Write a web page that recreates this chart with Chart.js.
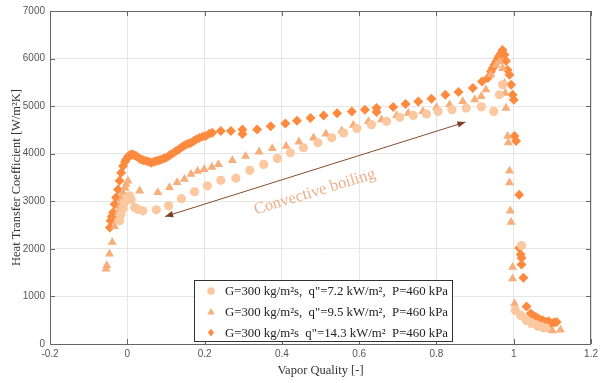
<!DOCTYPE html>
<html>
<head>
<meta charset="utf-8">
<script src="https://cdn.jsdelivr.net/npm/chart.js@4.4.0/dist/chart.umd.min.js"></script>
<style>
  html, body { margin: 0; padding: 0; background: #fff; }
  #wrap { width: 602px; height: 383px; }
</style>
</head>
<body>
<div id="wrap"><canvas id="chart" width="602" height="383"></canvas></div>
<script>
// tick values
const xTicks = [-0.2, 0, 0.2, 0.4, 0.6, 0.8, 1, 1.2];
const yTicks = [0, 1000, 2000, 3000, 4000, 5000, 6000, 7000];

const legendLabels = [
    'G=300 kg/m\u00B2s,  q"=7.2 kW/m\u00B2,  P=460 kPa',
    'G=300 kg/m\u00B2s,  q"=9.5 kW/m\u00B2,  P=460 kPa',
    'G=300 kg/m\u00B2s  q"=14.3 kW/m\u00B2  P=460 kPa'
];

// q" = 7.2 kW/m2 (circles)
const q72X = [-0.020, -0.016, -0.011, -0.007, 0.002, 0.006, 0.010, 0.019, 0.027, 0.040, 0.075, 0.107, 0.140, 0.174,
    0.207, 0.242, 0.281, 0.317, 0.353, 0.388, 0.422, 0.456, 0.493, 0.529, 0.560, 0.594, 0.632, 0.671, 0.705, 0.740,
    0.774, 0.804, 0.840, 0.877, 0.916, 0.948, 0.963, 0.971, 1.020, 1.004, 1.018, 1.031, 1.044, 1.057, 1.070, 1.083];
const q72Y = [2590, 2730, 2850, 2975, 3080, 3115, 3040, 2870, 2835, 2800, 2820, 2905, 3055, 3200,
    3325, 3440, 3485, 3650, 3775, 3900, 4020, 4125, 4230, 4335, 4435, 4530, 4610, 4680, 4765, 4805,
    4835, 4890, 4925, 4960, 4985, 4890, 5240, 5450, 2070, 710, 605, 520, 455, 410, 370, 340];

// q" = 9.5 kW/m2 (triangles)
const q95X = [-0.055, -0.053, -0.046, -0.039, -0.033, -0.028, -0.024, -0.020, -0.015, -0.011, -0.006, -0.003, 0.002,
    0.032, 0.079, 0.109, 0.129, 0.148, 0.165, 0.182, 0.199, 0.219, 0.236, 0.272, 0.306, 0.341, 0.375, 0.411, 0.444,
    0.482, 0.514, 0.555, 0.585, 0.624, 0.658, 0.697, 0.727, 0.765, 0.800, 0.834, 0.868, 0.899, 0.916, 0.928, 0.941,
    0.954, 0.963, 0.971, 0.976, 0.978, 0.980, 0.984, 0.986, 0.989, 0.989, 0.991, 0.993, 0.997, 0.997, 1.002, 1.010,
    1.023, 1.036, 1.049, 1.066, 1.083, 1.100, 1.121];
const q95Y = [1580, 1650, 1895, 2140, 2470, 2590, 2760, 2900, 3050, 3180, 3280, 3360, 3430,
    3220, 3185, 3290, 3395, 3465, 3570, 3635, 3670, 3720, 3775, 3860, 3950, 4040, 4110, 4160, 4250,
    4335, 4415, 4485, 4600, 4680, 4715, 4805, 4855, 4890, 4975, 5030, 5100, 5135, 5205, 5345, 5660,
    5865, 5935, 5795, 5480, 5275, 4960, 4370, 4230, 3640, 3390, 2800, 2560, 1615, 1375, 850, 675,
    570, 465, 400, 350, 305, 280, 295];

// q" = 14.3 kW/m2 (diamonds)
const q143X = [-0.045, -0.043, -0.040, -0.037, -0.033, -0.029, -0.024, -0.020, -0.016, -0.011, -0.006, -0.003, 0.002,
    0.006, 0.010, 0.014, 0.019, 0.023, 0.030, 0.036, 0.042, 0.049, 0.056, 0.062, 0.069, 0.075, 0.082, 0.088, 0.094,
    0.100, 0.107, 0.113, 0.120, 0.126, 0.133, 0.139, 0.146, 0.152, 0.159, 0.165, 0.172, 0.178, 0.186, 0.195, 0.203,
    0.212, 0.220, 0.242, 0.268, 0.298, 0.298, 0.336, 0.371, 0.409, 0.439, 0.474, 0.508, 0.543, 0.581, 0.615, 0.645,
    0.645, 0.688, 0.720, 0.753, 0.787, 0.823, 0.857, 0.894, 0.918, 0.933, 0.941, 0.946, 0.950, 0.955, 0.959, 0.963,
    0.967, 0.971, 0.976, 0.980, 0.984, 0.989, 0.993, 0.997, 1.000, 1.002, 1.006, 1.014, 1.014, 1.018, 1.020, 1.020,
    1.025, 1.033, 1.044, 1.050, 1.057, 1.063, 1.070, 1.076, 1.083, 1.090, 1.096, 1.104, 1.111];
const q143Y = [2450, 2590, 2680, 2765, 2940, 3080, 3250, 3430, 3600, 3740, 3830, 3880, 3940,
    3970, 3980, 3985, 3965, 3950, 3910, 3880, 3860, 3845, 3830, 3810, 3830, 3845, 3860, 3880, 3900,
    3915, 3950, 3985, 4020, 4055, 4090, 4125, 4160, 4195, 4215, 4230, 4265, 4300, 4330, 4360, 4370,
    4420, 4440, 4475, 4475, 4510, 4415, 4510, 4575, 4635, 4695, 4750, 4805, 4850, 4890, 4925, 4960,
    4875, 4980, 5045, 5100, 5155, 5240, 5295, 5380, 5520, 5590, 5730, 5800, 5870, 5940, 6005, 6060,
    6110, 6180, 6080, 5950, 5760, 5660, 5450, 5240, 5135, 4370, 4265, 3135, 2020, 1880, 1810, 1670,
    1395, 790, 640, 600, 570, 535, 505, 495, 465, 480, 435, 450, 465];

const colors = ['#fbc8a0', '#f8ae7a', '#fd8a3e'];
const styles = ['circle', 'triangle', 'rectRot'];
const radii = [4.6, 5.2, 5];

// annotation (data coordinates)
const arrowFrom = [0.098, 2680];
const arrowTo = [0.875, 4665];
const noteAt = [0.485, 3195];

function toPoints(xs, ys) {
    return xs.map((x, i) => ({ x: x, y: ys[i] }));
}

function drawMarker(ctx, style, cx, cy, r) {
    ctx.beginPath();
    if (style === 'circle') {
        ctx.arc(cx, cy, r, 0, Math.PI * 2);
    } else if (style === 'triangle') {
        ctx.moveTo(cx, cy - r);
        ctx.lineTo(cx + r * 0.95, cy + r * 0.7);
        ctx.lineTo(cx - r * 0.95, cy + r * 0.7);
        ctx.closePath();
    } else {
        ctx.moveTo(cx, cy - r);
        ctx.lineTo(cx + r * 0.8, cy);
        ctx.lineTo(cx, cy + r);
        ctx.lineTo(cx - r * 0.8, cy);
        ctx.closePath();
    }
    ctx.fill();
}

const frame = {
    id: 'frame',
    afterDatasetsDraw(chart) {
        const { ctx, chartArea: a } = chart;
        const sx = chart.scales.x, sy = chart.scales.y;
        ctx.save();

        // box + inward ticks
        ctx.strokeStyle = '#666';
        ctx.lineWidth = 1;
        ctx.strokeRect(a.left + 0.5, a.top + 0.5, a.right - a.left - 1, a.bottom - a.top);
        ctx.beginPath();
        xTicks.forEach(v => {
            const px = Math.round(sx.getPixelForValue(v)) + 0.5;
            ctx.moveTo(px, a.bottom); ctx.lineTo(px, a.bottom - 5);
            ctx.moveTo(px, a.top); ctx.lineTo(px, a.top + 5);
        });
        yTicks.forEach(v => {
            const py = Math.round(sy.getPixelForValue(v)) + 0.5;
            ctx.moveTo(a.left, py); ctx.lineTo(a.left + 5, py);
            ctx.moveTo(a.right, py); ctx.lineTo(a.right - 5, py);
        });
        ctx.stroke();

        // double arrow
        const x0 = sx.getPixelForValue(arrowFrom[0]), y0 = sy.getPixelForValue(arrowFrom[1]);
        const x1 = sx.getPixelForValue(arrowTo[0]), y1 = sy.getPixelForValue(arrowTo[1]);
        const ang = Math.atan2(y1 - y0, x1 - x0);
        ctx.strokeStyle = '#8a4a2c';
        ctx.fillStyle = '#7a3f22';
        ctx.lineWidth = 1;
        ctx.beginPath();
        ctx.moveTo(x0, y0); ctx.lineTo(x1, y1);
        ctx.stroke();
        [[x1, y1, ang], [x0, y0, ang + Math.PI]].forEach(([hx, hy, t]) => {
            ctx.beginPath();
            ctx.moveTo(hx, hy);
            ctx.lineTo(hx - 8 * Math.cos(t) + 3.2 * Math.sin(t), hy - 8 * Math.sin(t) - 3.2 * Math.cos(t));
            ctx.lineTo(hx - 8 * Math.cos(t) - 3.2 * Math.sin(t), hy - 8 * Math.sin(t) + 3.2 * Math.cos(t));
            ctx.closePath();
            ctx.fill();
        });

        // label
        ctx.save();
        ctx.translate(sx.getPixelForValue(noteAt[0]), sy.getPixelForValue(noteAt[1]));
        ctx.rotate(ang + 0.01);
        ctx.fillStyle = '#eeb08a';
        ctx.font = '16.5px "Liberation Serif", serif';
        ctx.textAlign = 'center';
        ctx.textBaseline = 'middle';
        ctx.fillText('Convective boiling', 0, 0);
        ctx.restore();

        // legend box
        const lx = a.left + 144, ly = a.bottom - 64, lw = 258, lh = 61;
        ctx.fillStyle = '#fff';
        ctx.fillRect(lx, ly, lw, lh);
        ctx.strokeStyle = '#333';
        ctx.strokeRect(lx + 0.5, ly + 0.5, lw, lh);
        ctx.font = '12.8px "Liberation Serif", serif';
        ctx.textBaseline = 'middle';
        ctx.textAlign = 'left';
        legendLabels.forEach((txt, i) => {
            const rowY = ly + 11 + i * 20.8;
            ctx.fillStyle = colors[i];
            drawMarker(ctx, styles[i], lx + 17, rowY, 3.8);
            ctx.fillStyle = '#222';
            ctx.fillText(txt, lx + 31, rowY + 1);
        });

        ctx.restore();
    }
};

const datasets = [
    { label: legendLabels[0], data: toPoints(q72X, q72Y) },
    { label: legendLabels[1], data: toPoints(q95X, q95Y) },
    { label: legendLabels[2], data: toPoints(q143X, q143Y) }
].map((d, i) => Object.assign(d, {
    pointStyle: styles[i],
    pointRadius: radii[i],
    backgroundColor: colors[i],
    borderColor: colors[i],
    borderWidth: 0,
    showLine: false
}));

const tickFont = { family: '"Liberation Sans", Arial, sans-serif', size: 10 };
const titleFont = { family: '"Liberation Serif", "Times New Roman", serif', size: 12.5 };

new Chart(document.getElementById('chart'), {
    type: 'scatter',
    data: { datasets: datasets },
    options: {
        responsive: false,
        animation: false,
        layout: { padding: { top: 9, right: 8, left: 0, bottom: 0 } },
        plugins: { legend: { display: false }, tooltip: { enabled: false } },
        scales: {
            x: {
                type: 'linear', min: -0.2, max: 1.2,
                afterBuildTicks: s => { s.ticks = xTicks.map(v => ({ value: v })); },
                afterFit: s => { s.height = 39; },
                ticks: { font: tickFont, color: '#555', padding: 4, maxRotation: 0, callback: v => String(v) },
                grid: { color: '#e6e6e6', drawTicks: false },
                border: { display: false },
                title: { display: true, text: 'Vapor Quality [-]', font: titleFont, color: '#333', padding: { top: 0, bottom: 5 } }
            },
            y: {
                type: 'linear', min: 0, max: 7000,
                afterBuildTicks: s => { s.ticks = yTicks.map(v => ({ value: v })); },
                afterFit: s => { s.width = 50; },
                ticks: { font: tickFont, color: '#555', padding: 5, callback: v => String(v) },
                grid: { color: '#e6e6e6', drawTicks: false },
                border: { display: false },
                title: { display: true, text: 'Heat Transfer Coefficient [W/m\u00B2K]', font: titleFont, color: '#333', padding: { top: 9, bottom: 0 } }
            }
        }
    },
    plugins: [frame]
});
</script>
</body>
</html>
